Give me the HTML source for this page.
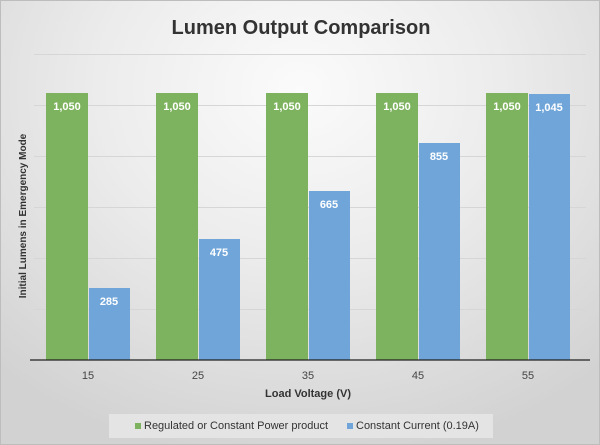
<!DOCTYPE html>
<html><head><style>
body{margin:0}
#c{position:relative;width:600px;height:445px;overflow:hidden;font-family:"Liberation Sans",sans-serif;
background:radial-gradient(ellipse 75% 85% at 50% 20%,#fbfbfb 0%,#ececec 45%,#d2d2d2 100%);box-sizing:border-box;border:1px solid #bdbdbd}
</style></head><body><div id="c">
<svg width="600" height="445" style="position:absolute;left:0;top:0" font-family="Liberation Sans, sans-serif">
<text x="300" y="33" text-anchor="middle" font-size="20" font-weight="bold" fill="#333">Lumen Output Comparison</text>
<g stroke="#d6d6d6" stroke-width="1">
<line x1="33" x2="585" y1="53.5" y2="53.5"/><line x1="33" x2="585" y1="104.5" y2="104.5"/>
<line x1="33" x2="585" y1="155.5" y2="155.5"/><line x1="33" x2="585" y1="206.5" y2="206.5"/>
<line x1="33" x2="585" y1="257.5" y2="257.5"/><line x1="33" x2="585" y1="308.5" y2="308.5"/>
</g>
<g fill="#7db35e">
<rect x="45" y="92" width="42" height="267"/><rect x="155" y="92" width="42" height="267"/>
<rect x="265" y="92" width="42" height="267"/><rect x="375" y="92" width="42" height="267"/>
<rect x="485" y="92" width="42" height="267"/>
</g>
<g fill="#6fa5d9">
<rect x="88" y="287" width="41" height="72"/><rect x="198" y="238" width="41" height="121"/>
<rect x="308" y="190" width="41" height="169"/><rect x="418" y="142" width="41" height="217"/>
<rect x="528" y="93" width="41" height="266"/>
</g>
<line x1="29" x2="589" y1="359" y2="359" stroke="#222" stroke-width="1.2"/>
<g fill="#fff" font-size="11" font-weight="bold" text-anchor="middle">
<text x="66" y="109">1,050</text><text x="176" y="109">1,050</text><text x="286" y="109">1,050</text>
<text x="396" y="109">1,050</text><text x="506" y="109">1,050</text>
<text x="108" y="304">285</text><text x="218" y="255">475</text><text x="328" y="207">665</text>
<text x="438" y="159">855</text><text x="548" y="110">1,045</text>
</g>
<g fill="#444" font-size="11" text-anchor="middle">
<text x="87" y="378">15</text><text x="197" y="378">25</text><text x="307" y="378">35</text>
<text x="417" y="378">45</text><text x="527" y="378">55</text>
</g>
<text x="307" y="396" text-anchor="middle" font-size="11" font-weight="bold" fill="#333">Load Voltage (V)</text>
<text transform="translate(25,215) rotate(-90)" text-anchor="middle" font-size="10" font-weight="bold" fill="#333">Initial Lumens in Emergency Mode</text>
<rect x="108" y="413" width="384" height="24" fill="#e4e4e4"/>
<rect x="134" y="422" width="6" height="6" fill="#7db35e"/>
<text x="143" y="428" font-size="11" fill="#333">Regulated or Constant Power product</text>
<rect x="346" y="422" width="6" height="6" fill="#6fa5d9"/>
<text x="355" y="428" font-size="11" fill="#333">Constant Current (0.19A)</text>
</svg>
</div></body></html>
